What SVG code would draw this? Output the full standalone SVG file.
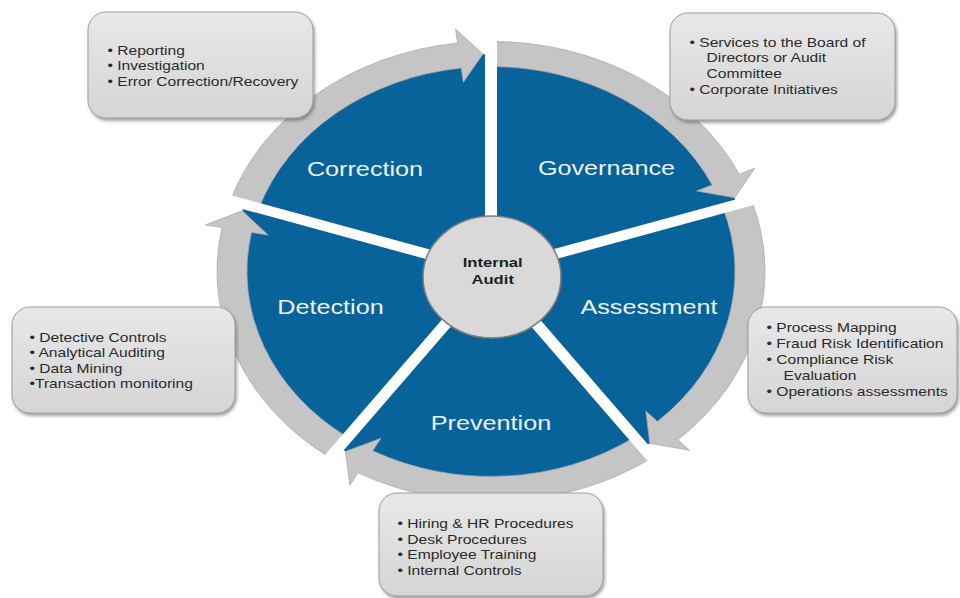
<svg xmlns="http://www.w3.org/2000/svg" width="960" height="598" viewBox="0 0 960 598">
  <defs>
    <linearGradient id="boxFill" x1="0" y1="0" x2="0" y2="1">
      <stop offset="0" stop-color="#e8e8e8"/>
      <stop offset="1" stop-color="#d5d5d5"/>
    </linearGradient>
    <filter id="shadow" x="-10%" y="-10%" width="125%" height="130%">
      <feDropShadow dx="1.5" dy="2.5" stdDeviation="1.5" flood-color="#555" flood-opacity="0.55"/>
    </filter>
  </defs>
  <style>
    .seg { fill: #08639a; }
    .band { fill: #c5c5c5; stroke: #a8a8a8; stroke-width: 0.8; }
    .gap { stroke: #ffffff; stroke-width: 12; stroke-linecap: butt; }
    .seglabel { font-family: "Liberation Sans", Arial, sans-serif; font-size: 21px; fill: #eef3f8; text-anchor: middle; }
    .box { fill: url(#boxFill); stroke: #9c9c9c; stroke-width: 1; filter: url(#shadow); }
    .boxtext { font-family: "Liberation Sans", Arial, sans-serif; font-size: 13px; fill: #2a2a2a; }
    .hub { fill: #d9d9d9; stroke: #7d7d7d; stroke-width: 1.5; }
    .hubtext { font-family: "Liberation Sans", Arial, sans-serif; font-size: 13px; font-weight: bold; fill: #1e1e1e; text-anchor: middle; }
  </style>

  <rect width="960" height="598" fill="#ffffff"/>

  <!-- Segments -->
  <g id="governance">
    <path class="seg" transform="translate(491,271.5) scale(1,0.84)" d="M0,0 L0,-259 A259,259 0 0 1 246.32,-80.04 Z"/>
    <text class="seglabel" transform="translate(606.5,175) scale(1.2,1)">Governance</text>
  </g>
  <g id="assessment">
    <path class="seg" transform="translate(491,271.5) scale(1,0.84)" d="M0,0 L246.32,-80.04 A259,259 0 0 1 152.24,209.54 Z"/>
    <text class="seglabel" transform="translate(649,314) scale(1.2,1)">Assessment</text>
  </g>
  <g id="prevention">
    <path class="seg" transform="translate(491,271.5) scale(1,0.84)" d="M0,0 L152.24,209.54 A259,259 0 0 1 -152.24,209.54 Z"/>
    <text class="seglabel" transform="translate(491,430) scale(1.2,1)">Prevention</text>
  </g>
  <g id="detection">
    <path class="seg" transform="translate(491,271.5) scale(1,0.84)" d="M0,0 L-152.24,209.54 A259,259 0 0 1 -246.32,-80.04 Z"/>
    <text class="seglabel" transform="translate(330.5,314) scale(1.2,1)">Detection</text>
  </g>
  <g id="correction">
    <path class="seg" transform="translate(491,271.5) scale(1,0.84)" d="M0,0 L-246.32,-80.04 A259,259 0 0 1 0,-259 Z"/>
    <text class="seglabel" transform="translate(365,176) scale(1.2,1)">Correction</text>
  </g>

  <!-- Connectors: curved arrows -->
  <g id="connectors" transform="translate(491,271.5) scale(1,0.84)">
    <path id="arrow-governance-assessment" class="band" d="M0,-274 A274,274 0 0 1 248.33,-115.80 L263.74,-122.98 L243.69,-87.73 L205.73,-95.93 L221.14,-103.12 A244,244 0 0 0 0,-244 Z"/>
    <path id="arrow-assessment-prevention" class="band" d="M260.59,-84.67 A274,274 0 0 1 186.87,200.39 L198.46,212.82 L158.81,204.60 L154.81,166.02 L166.41,178.45 A244,244 0 0 0 232.06,-75.40 Z"/>
    <path id="arrow-prevention-detection" class="band" d="M161.05,221.67 A274,274 0 0 1 -132.84,239.65 L-141.08,254.51 L-145.58,214.21 L-110.05,198.54 L-118.29,213.41 A244,244 0 0 0 143.42,197.40 Z"/>
    <path id="arrow-detection-correction" class="band" d="M-161.05,221.67 A274,274 0 0 1 -268.97,-52.28 L-285.65,-55.53 L-248.72,-72.26 L-222.83,-43.31 L-239.52,-46.56 A244,244 0 0 0 -143.42,197.40 Z"/>
    <path id="arrow-correction-governance" class="band" d="M-260.59,-84.67 A274,274 0 0 1 -33.39,-271.96 L-35.46,-288.83 L-8.14,-258.87 L-27.66,-225.31 L-29.74,-242.18 A244,244 0 0 0 -232.06,-75.40 Z"/>
  </g>

  <!-- White separators between segments -->
  <g id="gaps" transform="translate(491,271.5) scale(1,0.84)">
    <line class="gap" x1="0" y1="0" x2="0" y2="-300"/>
    <line class="gap" x1="0" y1="0" x2="285.32" y2="-92.71"/>
    <line class="gap" x1="0" y1="0" x2="176.34" y2="242.71"/>
    <line class="gap" x1="0" y1="0" x2="-176.34" y2="242.71"/>
    <line class="gap" x1="0" y1="0" x2="-285.32" y2="-92.71"/>
  </g>

  <!-- Hub -->
  <g id="internal-audit">
    <ellipse class="hub" cx="492" cy="277" rx="69" ry="61"/>
    <text class="hubtext" transform="translate(492.7,0) scale(1.28,1)"><tspan x="0" y="267">Internal</tspan><tspan x="0" y="284">Audit</tspan></text>
  </g>

  <!-- Detail boxes -->
  <g id="box-correction">
    <rect class="box" x="88" y="12" width="225" height="106" rx="18"/>
    <text class="boxtext" transform="translate(107.5,0) scale(1.2,1)"><tspan x="0" y="55">• Reporting</tspan><tspan x="0" y="70.5">• Investigation</tspan><tspan x="0" y="86">• Error Correction/Recovery</tspan></text>
  </g>
  <g id="box-governance">
    <rect class="box" x="670" y="13" width="225" height="107" rx="18"/>
    <text class="boxtext" transform="translate(689.5,0) scale(1.2,1)"><tspan x="0" y="47">• Services to the Board of</tspan><tspan x="14.2" y="62.5">Directors or Audit</tspan><tspan x="14.2" y="78">Committee</tspan><tspan x="0" y="94">• Corporate Initiatives</tspan></text>
  </g>
  <g id="box-detection">
    <rect class="box" x="12" y="307" width="223" height="106" rx="18"/>
    <text class="boxtext" transform="translate(29.5,0) scale(1.2,1)"><tspan x="0" y="342">• Detective Controls</tspan><tspan x="0" y="357">• Analytical Auditing</tspan><tspan x="0" y="373">• Data Mining</tspan><tspan x="0" y="388">•Transaction monitoring</tspan></text>
  </g>
  <g id="box-assessment">
    <rect class="box" x="748" y="307" width="209" height="106" rx="18"/>
    <text class="boxtext" transform="translate(766.5,0) scale(1.2,1)"><tspan x="0" y="332">• Process Mapping</tspan><tspan x="0" y="348">• Fraud Risk Identification</tspan><tspan x="0" y="364">• Compliance Risk</tspan><tspan x="14.2" y="380">Evaluation</tspan><tspan x="0" y="396">• Operations assessments</tspan></text>
  </g>
  <g id="box-prevention">
    <rect class="box" x="379" y="493" width="224" height="103" rx="18"/>
    <text class="boxtext" transform="translate(397.5,0) scale(1.2,1)"><tspan x="0" y="528">• Hiring &amp; HR Procedures</tspan><tspan x="0" y="544">• Desk Procedures</tspan><tspan x="0" y="559">• Employee Training</tspan><tspan x="0" y="575">• Internal Controls</tspan></text>
  </g>
</svg>
